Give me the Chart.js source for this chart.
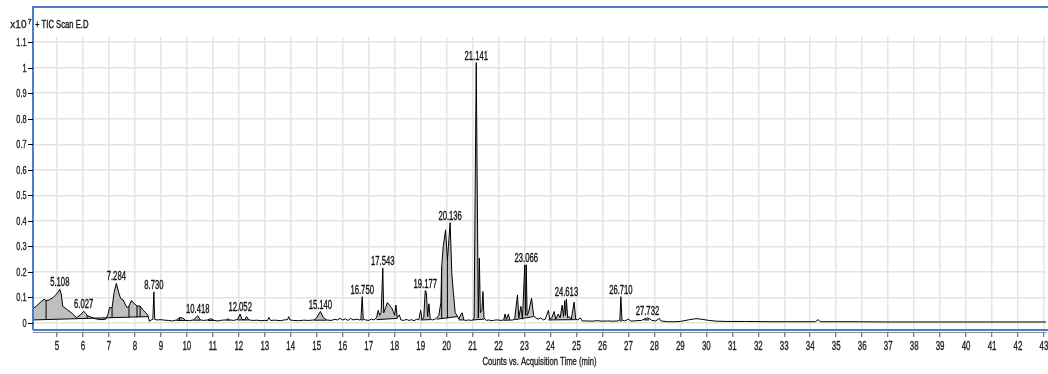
<!DOCTYPE html>
<html><head><meta charset="utf-8">
<script src="https://cdn.jsdelivr.net/npm/chart.js@4.4.1/dist/chart.umd.min.js"></script>
<style>html,body{margin:0;padding:0;background:#fff;overflow:hidden}#wrap{width:1048px;height:374px;position:relative}</style>
</head><body><div id="wrap"><canvas id="c" width="1048" height="374"></canvas></div>
<script>
// Acquisition time (min)
const times = [4.10,4.20,4.35,4.50,4.58,4.70,4.85,5.00,5.108,5.17,5.22,5.40,5.60,5.75,5.90,6.027,6.12,6.16,6.30,6.50,6.70,6.88,6.97,7.02,7.12,7.20,7.284,7.38,7.45,7.55,7.62,7.70,7.77,7.87,7.95,8.08,8.20,8.32,8.42,8.50,8.56,8.62,8.69,8.730,8.76,8.85,9.00,9.15,9.30,9.45,9.60,9.72,9.85,9.95,10.10,10.25,10.418,10.52,10.65,10.80,10.92,11.05,11.20,11.35,11.52,11.58,11.65,11.80,11.95,12.052,12.12,12.22,12.30,12.38,12.55,12.70,12.85,13.00,13.10,13.16,13.22,13.40,13.60,13.75,13.88,13.92,13.97,14.10,14.30,14.50,14.70,14.90,15.00,15.140,15.25,15.38,15.55,15.70,15.80,15.90,16.00,16.10,16.20,16.30,16.40,16.55,16.65,16.70,16.750,16.79,16.88,17.00,17.10,17.20,17.30,17.37,17.42,17.48,17.543,17.58,17.65,17.72,17.80,17.88,17.95,18.00,18.05,18.10,18.18,18.24,18.35,18.45,18.55,18.65,18.75,18.85,18.93,19.00,19.05,19.12,19.177,19.22,19.27,19.32,19.37,19.45,19.55,19.62,19.70,19.78,19.81,19.87,19.96,20.03,20.07,20.136,20.20,20.26,20.33,20.40,20.47,20.55,20.60,20.66,20.75,20.85,20.95,21.02,21.06,21.141,21.22,21.26,21.30,21.36,21.40,21.44,21.52,21.62,21.72,21.85,21.95,22.10,22.20,22.25,22.30,22.38,22.43,22.52,22.62,22.73,22.78,22.86,22.92,23.01,23.035,23.066,23.10,23.15,23.27,23.35,23.42,23.52,23.62,23.72,23.80,23.92,23.97,24.05,24.14,24.20,24.30,24.37,24.45,24.50,24.55,24.58,24.613,24.66,24.72,24.80,24.91,24.97,25.05,25.15,25.22,25.40,25.60,25.80,26.00,26.20,26.40,26.60,26.67,26.710,26.75,26.85,27.00,27.10,27.30,27.50,27.60,27.70,27.732,27.80,27.90,28.05,28.19,28.25,28.50,28.80,29.00,29.30,29.60,29.80,30.10,30.40,30.80,31.50,32.50,33.50,34.20,34.30,34.40,35.50,37.00,39.00,41.00,43.08];
// Counts (x10^7)
const counts = [0.058,0.066,0.080,0.093,0.088,0.090,0.100,0.115,0.132,0.110,0.065,0.052,0.036,0.021,0.031,0.046,0.036,0.030,0.023,0.016,0.013,0.015,0.036,0.060,0.060,0.120,0.155,0.118,0.096,0.090,0.074,0.060,0.066,0.088,0.078,0.067,0.066,0.050,0.040,0.030,0.006,0.012,0.014,0.122,0.014,0.012,0.013,0.011,0.010,0.008,0.012,0.021,0.019,0.010,0.009,0.012,0.028,0.012,0.010,0.012,0.017,0.010,0.008,0.011,0.012,0.016,0.012,0.010,0.014,0.035,0.014,0.012,0.025,0.012,0.010,0.011,0.009,0.010,0.009,0.022,0.010,0.011,0.009,0.012,0.013,0.025,0.012,0.010,0.009,0.011,0.010,0.012,0.021,0.045,0.022,0.012,0.010,0.014,0.012,0.018,0.012,0.016,0.010,0.018,0.012,0.015,0.012,0.014,0.103,0.015,0.012,0.010,0.015,0.012,0.020,0.050,0.030,0.040,0.215,0.040,0.060,0.080,0.070,0.060,0.045,0.030,0.070,0.020,0.032,0.012,0.010,0.014,0.010,0.013,0.009,0.015,0.012,0.050,0.015,0.020,0.127,0.120,0.025,0.075,0.015,0.012,0.015,0.020,0.030,0.080,0.220,0.300,0.365,0.247,0.300,0.393,0.195,0.120,0.040,0.030,0.015,0.035,0.040,0.012,0.010,0.012,0.010,0.012,0.020,1.020,0.020,0.254,0.040,0.050,0.123,0.020,0.010,0.012,0.009,0.011,0.012,0.010,0.012,0.035,0.014,0.035,0.012,0.011,0.015,0.110,0.020,0.065,0.015,0.228,0.030,0.228,0.030,0.040,0.097,0.030,0.020,0.015,0.020,0.012,0.015,0.050,0.015,0.020,0.045,0.015,0.035,0.020,0.070,0.025,0.088,0.030,0.094,0.020,0.025,0.015,0.082,0.015,0.012,0.020,0.008,0.008,0.007,0.009,0.007,0.008,0.007,0.008,0.012,0.103,0.012,0.008,0.015,0.007,0.009,0.010,0.015,0.018,0.020,0.018,0.010,0.008,0.018,0.008,0.005,0.005,0.006,0.012,0.017,0.015,0.010,0.007,0.006,0.006,0.005,0.005,0.005,0.013,0.005,0.005,0.004,0.004,0.004,0.004];

const xTickValues = [5,6,7,8,9,10,11,12,13,14,15,16,17,18,19,20,21,22,23,24,25,26,27,28,29,30,31,32,33,34,35,36,37,38,39,40,41,42,43];
const yTickValues = [0,0.1,0.2,0.3,0.4,0.5,0.6,0.7,0.8,0.9,1,1.1];
const yTickLabels = ['0','0.1','0.2','0.3','0.4','0.5','0.6','0.7','0.8','0.9','1','1.1'];

const peakLabelTimes = [5.108,6.027,7.284,8.730,10.418,12.052,15.140,16.750,17.543,19.177,20.136,21.141,23.066,24.613,26.710,27.732];
const peakLabelTexts = ['5.108','6.027','7.284','8.730','10.418','12.052','15.140','16.750','17.543','19.177','20.136','21.141','23.066','24.613','26.710','27.732'];

// integrated peak windows (gray areas) and their baselines
const winStart = [4.10,9.60,10.25,10.80,11.52,11.95,14.90,16.70,17.30,19.00,19.62,20.47,21.02,22.20,22.62,23.92,26.67,27.60];
const winEnd   = [8.50,9.95,10.52,11.05,11.65,12.38,15.38,16.79,18.10,19.37,20.40,20.66,21.44,22.43,23.35,24.97,26.75,27.80];
const winBase0 = [0.012,0.010,0.011,0.010,0.011,0.012,0.011,0.012,0.013,0.012,0.015,0.012,0.012,0.011,0.013,0.012,0.008,0.012];
const winBase1 = [0.025,0.010,0.011,0.010,0.011,0.012,0.011,0.012,0.018,0.013,0.025,0.012,0.015,0.011,0.025,0.013,0.008,0.012];

// peak split lines
const dividerTimes = [4.58,6.16,7.12,7.77,8.08,8.20,9.72,19.81,20.03];
const dividerBase  = [0.013,0.017,0.019,0.021,0.022,0.023,0.010,0.016,0.018];

const pts = times.map((t,i)=>({x:t,y:counts[i]}));
const datasets = [];
datasets.push({label:'TIC', data:pts, borderColor:'#000', borderWidth:1, pointRadius:0, fill:false, order:0, tension:0});
winStart.forEach((s,i)=>{
  const bIdx = datasets.length;
  datasets.push({label:'base'+i, data:[{x:s,y:winBase0[i]},{x:winEnd[i],y:winBase1[i]}], borderColor:'#000', borderWidth:1, pointRadius:0, fill:false, order:1});
  datasets.push({label:'area'+i, data:pts.filter(p=>p.x>=s && p.x<=winEnd[i]), borderWidth:0, borderColor:'rgba(0,0,0,0)', backgroundColor:'#bfbfbf', pointRadius:0, fill:bIdx, order:2});
});
const divPts = [];
dividerTimes.forEach((t,i)=>{
  divPts.push({x:t,y:dividerBase[i]});
  divPts.push({x:t,y:counts[times.indexOf(t)]});
  divPts.push({x:t,y:null});
});
datasets.push({label:'div', data:divPts, borderColor:'#000', borderWidth:1, pointRadius:0, fill:false, spanGaps:false, order:1});

// pick a narrow face if one is installed, otherwise squeeze the regular one
const probe = document.createElement('canvas').getContext('2d');
function widthOf(f){ probe.font = '40px ' + f; return probe.measureText('Counts 0123456789 Time').width; }
const hasNarrow = widthOf('"Liberation Sans Narrow", monospace') !== widthOf('monospace');
const FAMILY = hasNarrow ? '"Liberation Sans Narrow"' : '"Liberation Sans", Arial, sans-serif';
const NARROW = hasNarrow ? 0.82 : 1;

function drawText(ctx, txt, x, y, size, align, sx, color){
  ctx.save();
  ctx.font = size + 'px ' + FAMILY;
  ctx.fillStyle = color; ctx.textAlign = align; ctx.textBaseline = 'alphabetic';
  ctx.translate(x, y); ctx.scale(sx / NARROW, 1);
  ctx.fillText(txt, 0, 0);
  ctx.strokeStyle = color; ctx.lineWidth = 0.35; ctx.strokeText(txt, 0, 0);
  ctx.restore();
}

const decor = {
  id:'decor',
  afterDraw(chart){
    const ctx = chart.ctx, xs = chart.scales.x, ys = chart.scales.y, a = chart.chartArea;
    ctx.save();
    ctx.strokeStyle = '#4a7dcc'; ctx.lineWidth = 2;
    ctx.beginPath();
    ctx.moveTo(a.left, a.bottom - 2); ctx.lineTo(a.left, 7); ctx.lineTo(1048, 7);
    ctx.moveTo(a.left, a.bottom - 2); ctx.lineTo(1048, a.bottom - 2);
    ctx.stroke();
    ctx.strokeStyle = '#000'; ctx.lineWidth = 1;
    yTickValues.forEach(v=>{
      const y = Math.round(ys.getPixelForValue(v)) + 0.5;
      ctx.beginPath(); ctx.moveTo(a.left - 5, y); ctx.lineTo(a.left, y); ctx.stroke();
    });
    ctx.restore();
    yTickValues.forEach((v,i)=>{
      drawText(ctx, yTickLabels[i], a.left - 6.5, ys.getPixelForValue(v) + 3.8, 10.8, 'right', 0.68, '#222');
    });
    xTickValues.forEach(v=>{
      drawText(ctx, String(v), xs.getPixelForValue(v), 349.5, 12.8, 'center', 0.62, '#222');
    });
    drawText(ctx, 'Counts vs. Acquisition Time (min)', (a.left + a.right)/2, 365, 11.8, 'center', 0.65, '#222');
    drawText(ctx, 'x10', 26.5, 28.3, 11.8, 'right', 0.85, '#222');
    drawText(ctx, '7', 27.8, 23.5, 7.5, 'left', 0.9, '#222');
    drawText(ctx, '+ TIC Scan E.D', 35, 28.3, 10.8, 'left', 0.71, '#111');
    peakLabelTimes.forEach((t,i)=>{
      const v = counts[times.indexOf(t)];
      drawText(ctx, peakLabelTexts[i], xs.getPixelForValue(t), ys.getPixelForValue(v) - 3, 12.2, 'center', 0.63, '#111');
    });
  }
};

new Chart(document.getElementById('c'), {
  type:'line',
  data:{datasets},
  plugins:[decor],
  options:{
    responsive:false, animation:false, devicePixelRatio:1,
    layout:{padding:{top:37,right:2,left:0,bottom:0}},
    plugins:{legend:{display:false}, tooltip:{enabled:false}},
    elements:{line:{tension:0}},
    scales:{
      x:{type:'linear', min:4.076, max:43.077,
        afterBuildTicks:s=>{s.ticks = xTickValues.map(v=>({value:v}));},
        afterFit:s=>{s.height = 42;},
        ticks:{display:false},
        grid:{color:'#e4e4e4', lineWidth:1.5, drawTicks:true, tickLength:5, tickColor:'#555', tickWidth:1},
        border:{display:true, color:'#8a8a8a', width:1}},
      y:{type:'linear', min:-0.0353, max:1.1203,
        afterBuildTicks:s=>{s.ticks = yTickValues.map(v=>({value:v}));},
        afterFit:s=>{s.width = 33;},
        ticks:{display:false},
        grid:{color:'#e4e4e4', lineWidth:1.5, drawTicks:false},
        border:{display:false}}
    }
  }
});
</script></body></html>
